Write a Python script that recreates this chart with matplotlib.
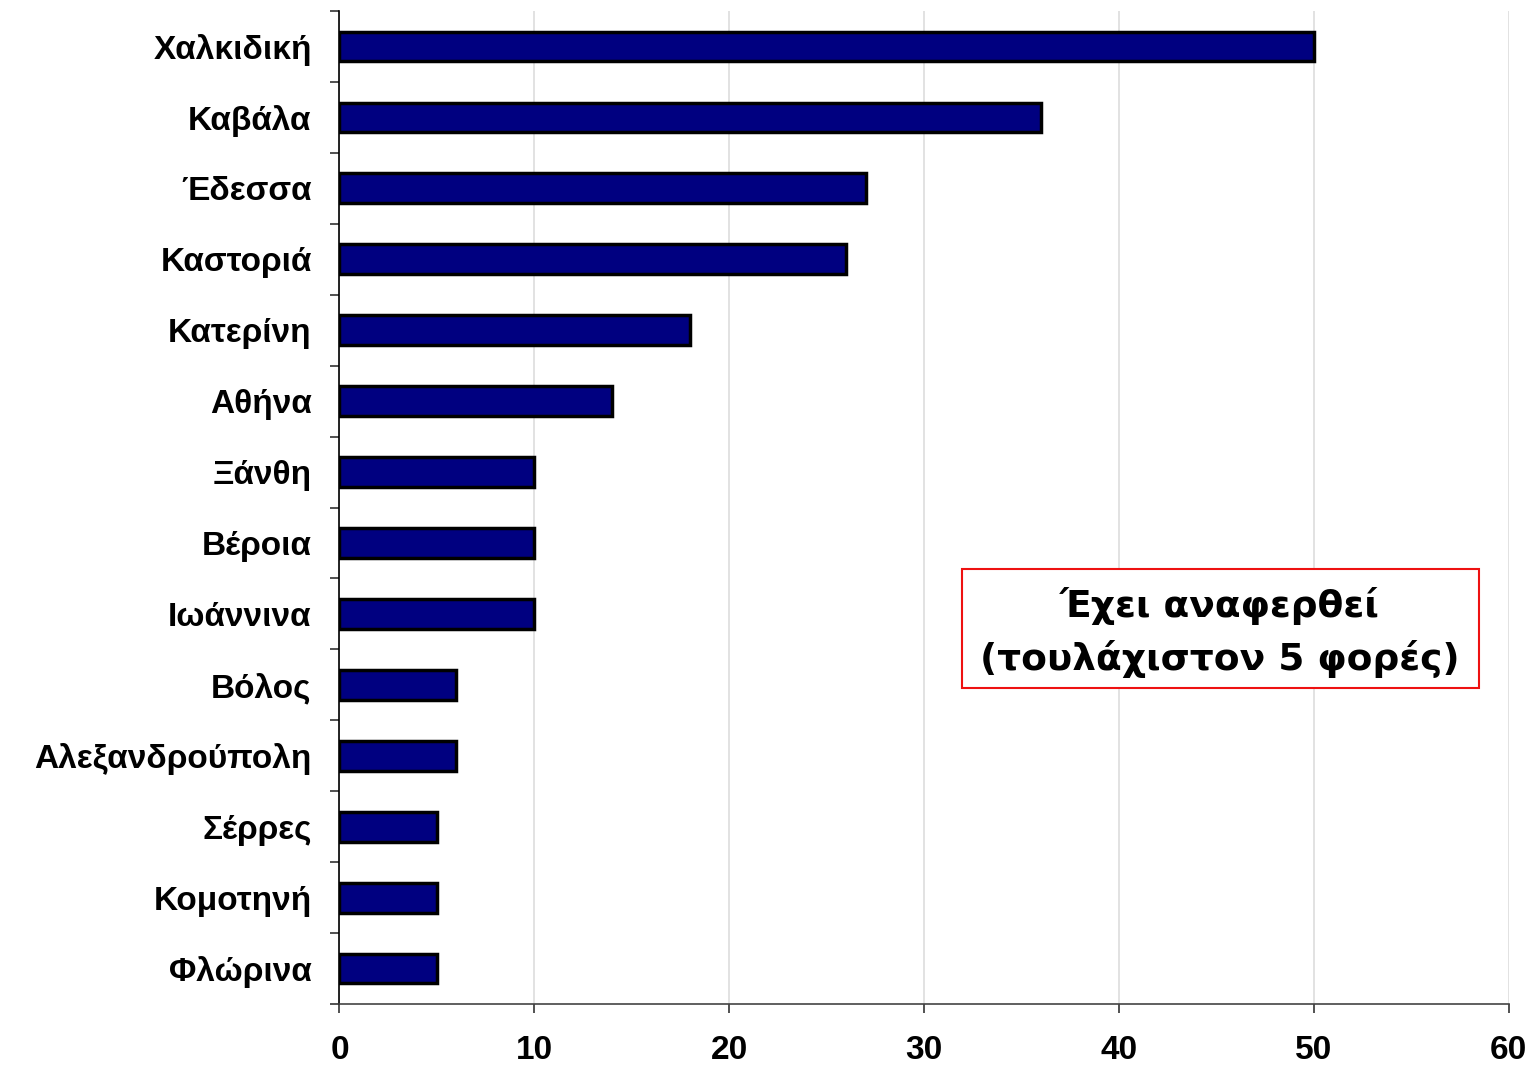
import matplotlib.pyplot as plt
from matplotlib.patches import Rectangle
from matplotlib.ticker import FixedLocator, NullFormatter

# --- data ---
cities = ['Χαλκιδική', 'Καβάλα', 'Έδεσσα', 'Καστοριά', 'Κατερίνη', 'Αθήνα', 'Ξάνθη',
          'Βέροια', 'Ιωάννινα', 'Βόλος', 'Αλεξανδρούπολη', 'Σέρρες', 'Κομοτηνή', 'Φλώρινα']
counts = [50, 36, 27, 26, 18, 14, 10, 10, 10, 6, 6, 5, 5, 5]
x_ticks = [0, 10, 20, 30, 40, 50, 60]
note = 'Έχει αναφερθεί\n(τουλάχιστον 5 φορές)'

# --- figure ---
fig = plt.figure(figsize=(15.32, 10.68), dpi=100)
ax = fig.add_axes([0.2216, 0.0599, 0.7632, 0.9298])

ypos = list(range(len(cities)))
ax.barh(ypos, counts, height=0.42, color='#000080', edgecolor='black', linewidth=2.5, zorder=3)

ax.set_xlim(0, 60)
ax.set_ylim(len(cities) - 0.5, -0.5)
ax.grid(axis='x', color='#dddddd', linewidth=1.2, zorder=0)

# category labels centered, tick marks between categories
ax.set_yticks(ypos)
ax.set_yticklabels(cities, fontsize=24, fontweight='bold', family='Liberation Sans')
ax.tick_params(axis='y', which='major', length=0, pad=20)
ax.yaxis.set_minor_locator(FixedLocator([i - 0.5 for i in range(len(cities) + 1)]))
ax.yaxis.set_minor_formatter(NullFormatter())
ax.tick_params(axis='y', which='minor', length=6.5, width=1.2, color='#333333')

ax.set_xticks(x_ticks)
ax.set_xticklabels([str(t) for t in x_ticks], fontsize=24, fontweight='bold', family='Liberation Sans')
ax.tick_params(axis='x', length=6.5, width=1.2, color='#333333', pad=16)

for side in ['top', 'right']:
    ax.spines[side].set_visible(False)
ax.spines['left'].set_linewidth(1.2)
ax.spines['bottom'].set_linewidth(1.2)
ax.spines['bottom'].set_color('#444444')

# note box
ax.add_patch(Rectangle((0.532, 0.318), 0.443, 0.120, transform=ax.transAxes,
                       facecolor='white', edgecolor='#ee1111', linewidth=1.5, zorder=5))
ax.text(0.753, 0.374, note, transform=ax.transAxes, ha='center', va='center',
        fontsize=27, fontweight='bold', family='DejaVu Sans', linespacing=1.5, zorder=6)

fig.savefig('out.png', dpi=100)
